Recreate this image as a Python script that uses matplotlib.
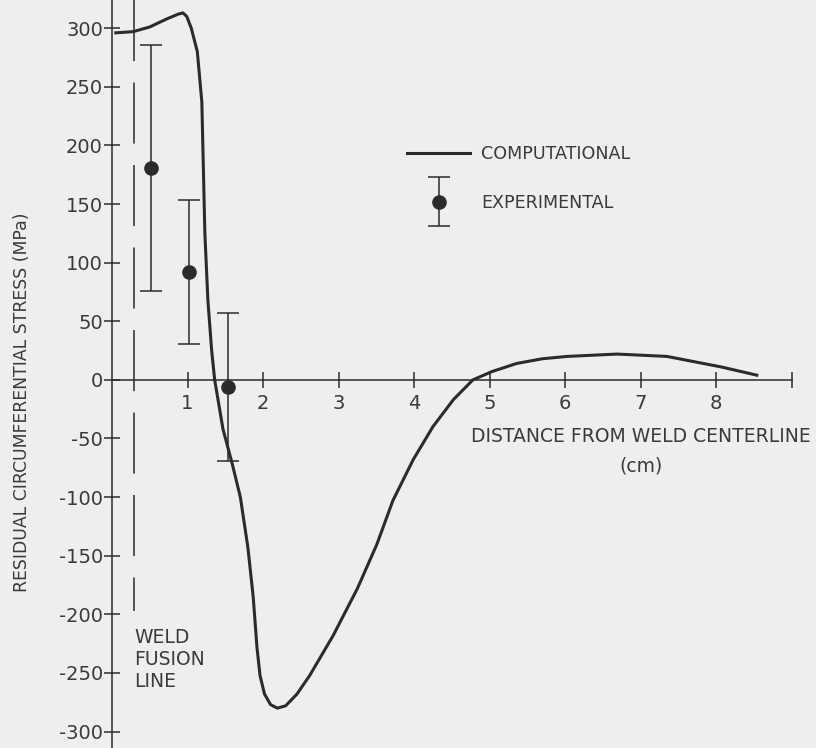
import matplotlib
matplotlib.use('Agg')
import matplotlib.pyplot as plt
from matplotlib.legend_handler import HandlerErrorbar

# computational curve (distance cm, stress MPa)
comp_x = [0.05, 0.28, 0.50, 0.73, 0.88, 0.94, 0.99, 1.05, 1.13, 1.19, 1.21, 1.23, 1.27,
          1.32, 1.36, 1.47, 1.59, 1.70, 1.80, 1.87, 1.92, 1.96, 2.02, 2.10, 2.19, 2.30,
          2.45, 2.62, 2.93, 3.25, 3.51, 3.72, 3.99, 4.25, 4.52, 4.78, 5.03, 5.36, 5.70,
          6.03, 6.69, 7.35, 8.07, 8.54]
comp_y = [296, 297, 301, 308, 312, 313, 310, 300, 280, 237, 181, 125, 68,
          25, 0, -42, -71, -100, -143, -185, -228, -252, -268, -277, -280, -278,
          -268, -252, -218, -178, -140, -103, -68, -40, -17, 0, 7, 14, 18,
          20, 22, 20, 11, 4]

# experimental points with error bars
exp_x = [0.52, 1.02, 1.54]
exp_y = [181, 92, -6]
exp_err = [105, 61, 63]

# weld fusion line
fusion_x = 0.29
fusion_top = 324
fusion_bottom = -197

x_ticks = [1, 2, 3, 4, 5, 6, 7, 8, 9]
x_ticklabels = ['1', '2', '3', '4', '5', '6', '7', '8', '']
y_ticks = [300, 250, 200, 150, 100, 50, 0, -50, -100, -150, -200, -250, -300]

plt.rcParams['font.family'] = ['DejaVu Sans']
plt.rcParams['axes.unicode_minus'] = False

ink = '#2b2b2b'
txt = '#3a3a3a'
bg = '#eeeeee'
W, H = 816, 748

fig = plt.figure(figsize=(W / 100, H / 100), dpi=100, facecolor=bg)
ax = fig.add_axes([112 / W, 0, 679.5 / W, 1], facecolor=bg)
ax.set_xlim(0, 9)
ax.set_ylim(-314, 324)

for s in ['top', 'right']:
    ax.spines[s].set_visible(False)
ax.spines['bottom'].set_position(('data', 0))
for s in ['left', 'bottom']:
    ax.spines[s].set_color(ink)
    ax.spines[s].set_linewidth(1.1)

ax.set_xticks(x_ticks)
ax.set_xticklabels(x_ticklabels)
ax.set_yticks(y_ticks)
ax.set_yticklabels([str(v) for v in y_ticks])
ax.tick_params(axis='both', direction='inout', length=11, width=1.1, color=ink,
               labelcolor=txt, labelsize=14)
ax.tick_params(axis='x', pad=5)
ax.tick_params(axis='y', pad=1)

ax.plot([fusion_x, fusion_x], [fusion_top, fusion_bottom], color=ink, lw=1.1,
        dashes=(40, 14), clip_on=False)

ax.plot(comp_x, comp_y, color=ink, lw=2.2, clip_on=False, label='COMPUTATIONAL',
        solid_joinstyle='round')
eb = ax.errorbar(exp_x, exp_y, yerr=exp_err, fmt='o', color=ink, ms=9.5,
                 elinewidth=1.1, capsize=8, capthick=1.1, label='EXPERIMENTAL')

handles, labels = ax.get_legend_handles_labels()
leg = fig.legend(handles, labels, loc='upper left',
                 bbox_to_anchor=(407 / W, 1 - 145 / H), frameon=False,
                 handlelength=3.6, handletextpad=0.65, labelspacing=1.75,
                 borderpad=0, borderaxespad=0, fontsize=12.6,
                 handler_map={type(eb): HandlerErrorbar(yerr_size=1.4)})
for t in leg.get_texts():
    t.set_color(txt)

fig.text(641 / W, 1 - 437 / H, 'DISTANCE FROM WELD CENTERLINE', ha='center',
         va='center', fontsize=13.5, color=txt)
fig.text(641 / W, 1 - 466 / H, '(cm)', ha='center', va='center', fontsize=13.5,
         color=txt)
fig.text(22 / W, 1 - 402 / H, 'RESIDUAL CIRCUMFERENTIAL STRESS (MPa)',
         rotation=90, ha='center', va='center', fontsize=12.4, color=txt)
fig.text(134 / W, 1 - 628 / H, 'WELD\nFUSION\nLINE', ha='left', va='top',
         fontsize=13.5, color=txt, linespacing=1.2)

fig.savefig('out.png', dpi=100, facecolor=bg)
